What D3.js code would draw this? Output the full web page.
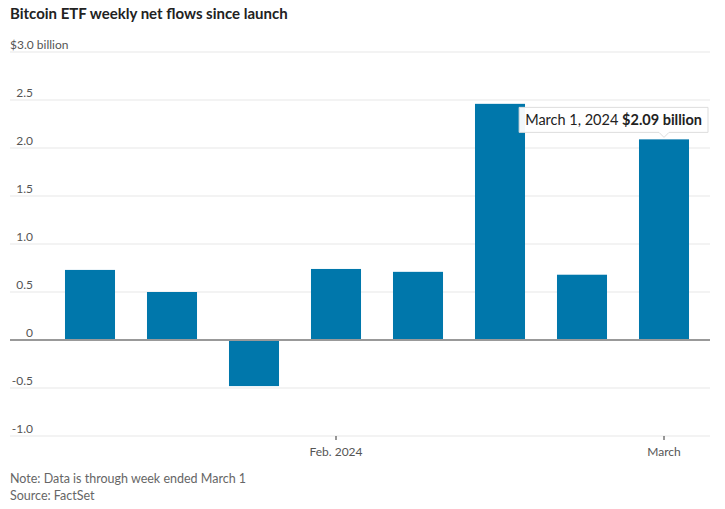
<!DOCTYPE html>
<html>
<head>
<meta charset="utf-8">
<script src="https://cdn.jsdelivr.net/npm/d3@7"></script>
<style>
  body { margin: 0; background: #fff; }
  svg { font-family: Lato, "Noto Sans", sans-serif; }
</style>
</head>
<body>
<div id="chart"></div>
<script>
// week-ended dates and net flows ($ billion)
var weeks = ["2024-01-12", "2024-01-19", "2024-01-26", "2024-02-02", "2024-02-09", "2024-02-16", "2024-02-23", "2024-03-01"];
var flows = [0.73, 0.50, -0.48, 0.74, 0.71, 2.46, 0.68, 2.09];
var yTicks = [-1.0, -0.5, 0, 0.5, 1.0, 1.5, 2.0, 2.5, 3.0];
var xTickWeeks = ["2024-02-02", "2024-03-01"];
var xTickLabels = ["Feb. 2024", "March"];

var width = 725,
    height = 509,
    left = 10,
    right = 710,
    highlight = 7;

var svg = d3.select("#chart").append("svg")
  .attr("width", width)
  .attr("height", height);

var x = d3.scaleBand()
  .domain(weeks)
  .range([49, 705])
  .paddingInner(0.39)
  .paddingOuter(0.195);

var y = d3.scaleLinear()
  .domain([-1, 3])
  .range([436, 52]);

svg.append("text")
  .attr("x", 10)
  .attr("y", 19)
  .attr("font-size", 15)
  .attr("font-weight", "bold")
  .attr("fill", "#222")
  .text("Bitcoin ETF weekly net flows since launch");

// gridlines
svg.append("g").selectAll("line")
  .data(yTicks.filter(function(d) { return d !== 0; }))
  .join("line")
  .attr("x1", left).attr("x2", right)
  .attr("y1", function(d) { return y(d); })
  .attr("y2", function(d) { return y(d); })
  .attr("stroke", "#efefef")
  .attr("stroke-width", 1.5);

// y labels, right aligned, top one carries the unit
var yl = svg.append("g").selectAll("text")
  .data(yTicks)
  .join("text")
  .attr("x", 33)
  .attr("y", function(d) { return y(d) - 3; })
  .attr("font-size", 12)
  .attr("fill", "#555");
yl.filter(function(d) { return d !== 3; })
  .attr("text-anchor", "end")
  .text(function(d) { return d === 0 ? "0" : d3.format(".1f")(d).replace("−", "-"); });
yl.filter(function(d) { return d === 3; })
  .attr("x", 10)
  .text("$3.0 billion");

// x axis
var xAxis = d3.axisBottom(x)
  .tickValues(xTickWeeks)
  .tickSize(4)
  .tickFormat(function(d) { return xTickLabels[xTickWeeks.indexOf(d)]; });

var gx = svg.append("g")
  .attr("transform", "translate(0," + y(-1) + ")")
  .call(xAxis);
gx.select(".domain").remove();
gx.selectAll(".tick line").attr("stroke", "#333");
gx.selectAll(".tick text")
  .attr("dy", 0)
  .attr("y", 20)
  .attr("font-family", "Lato, sans-serif")
  .attr("font-size", 12)
  .attr("fill", "#555");

// bars
svg.append("g").selectAll("rect")
  .data(flows)
  .join("rect")
  .attr("x", function(d, i) { return x(weeks[i]); })
  .attr("width", x.bandwidth())
  .attr("y", function(d) { return y(Math.max(0, d)); })
  .attr("height", function(d) { return Math.abs(y(d) - y(0)); })
  .attr("fill", "#0077ab");

// zero line
svg.append("line")
  .attr("x1", left).attr("x2", right)
  .attr("y1", y(0)).attr("y2", y(0))
  .attr("stroke", "#999")
  .attr("stroke-width", 2);

// tooltip on last bar
var cx = x(weeks[highlight]) + x.bandwidth() / 2,
    tipY = y(flows[highlight]) - 2;
var tip = svg.append("g");
var box = tip.append("path")
  .attr("fill", "#fff")
  .attr("fill-opacity", 0.95)
  .attr("stroke", "#ddd");
var label = tip.append("text")
  .attr("font-size", 14.5)
  .attr("fill", "#222");
label.append("tspan").text("March 1, 2024 ");
label.append("tspan").attr("font-weight", "bold").text("$" + d3.format(".2f")(flows[highlight]) + " billion");

var bw = label.node().getComputedTextLength() + 12,
    bh = 25,
    bx1 = right - 2,
    bx0 = bx1 - bw,
    by1 = tipY - 5,
    by0 = by1 - bh;
label.attr("x", bx0 + 6).attr("y", by0 + 18);
box.attr("d", "M" + bx0 + "," + by0 + "H" + bx1 + "V" + by1 +
  "H" + (cx + 5) + "L" + cx + "," + tipY + "L" + (cx - 5) + "," + by1 +
  "H" + bx0 + "Z");

// notes
svg.append("text")
  .attr("x", 10).attr("y", 483)
  .attr("font-size", 12.5)
  .attr("fill", "#666")
  .text("Note: Data is through week ended March 1");
svg.append("text")
  .attr("x", 10).attr("y", 500)
  .attr("font-size", 12.5)
  .attr("fill", "#666")
  .text("Source: FactSet");
</script>
</body>
</html>
